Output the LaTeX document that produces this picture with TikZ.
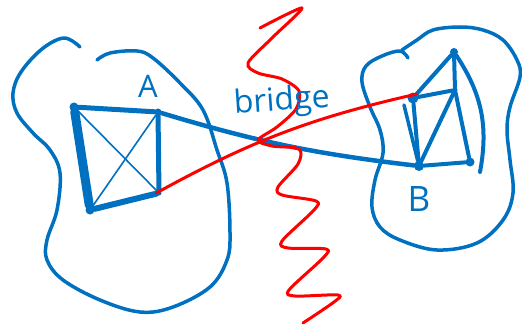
\documentclass[tikz,border=0pt]{standalone}
\usepackage{fontspec}
\setsansfont{Open Sans}
\usetikzlibrary{positioning}
\definecolor{pen}{RGB}{0,112,192}
\definecolor{cut}{RGB}{255,0,0}
\newcommand{\hand}[1]{\sffamily\fontsize{#1}{#1}\selectfont}

\begin{document}
\begin{tikzpicture}[x=1pt, y=-1pt, line cap=round, line join=round,
      every node/.style={text=pen},
      vtx/.style={circle, fill=pen, inner sep=0pt, minimum size=7pt},
      edge/.style={draw=pen, line width=4pt},
      fine/.style={draw=pen, line width=1.6pt},
      blob/.style={draw=pen, line width=3.5pt},
      cutline/.style={draw=cut, line width=3pt}]
  \useasboundingbox (0,0) rectangle (522,326);

  % cluster A
  \draw[blob] plot[smooth, tension=0.6] coordinates {(80,47) (64,38) (42,49)
    (21,72) (13,93) (17,113) (33,133) (50,150) (60,173) (57,210) (47,240)
    (47,260) (63,280) (100,300) (140,312) (173,307) (210,287) (227,260)
    (230,233) (227,183) (217,150) (203,110) (180,83) (153,58) (137,51)
    (110,53) (97,60)};
  \node[vtx, minimum size=9pt] (a1) at (74,107) {};
  \node[vtx] (a2) at (158,112) {};
  \node[vtx, minimum size=5pt] (a3) at (159,193) {};
  \node[vtx, minimum size=9pt] (a4) at (90,210) {};
  \draw[edge, line width=5pt] (a1) -- (a2);
  \draw[edge, line width=5pt] (a2) -- (a3);
  \draw[edge, line width=6pt] (a3) -- (a4);
  \draw[edge, line width=9pt] (a4) -- (a1);
  \draw[fine] (a1) -- (a3);
  \draw[fine] (a2) -- (a4);
  \node[font=\hand{31}] (labA) at (148,86) {A};

  % cluster B
  \draw[blob] plot[smooth, tension=0.6] coordinates {(408,58) (400,51) (382,56)
    (366,66) (362,82) (370,107) (380,130) (383,153) (375,180) (372,207)
    (380,227) (400,240) (437,250) (477,243) (503,220) (513,193) (510,160)
    (507,130) (510,107) (520,77) (517,60) (503,40) (483,30) (460,27)
    (433,30) (417,40) (402,50)};
  \node[vtx, minimum size=8pt] (bT) at (454,52) {};
  \node[vtx, minimum size=5pt] (bM) at (455,90) {};
  \node[vtx, minimum size=11pt] (bL) at (413,98) {};
  \node[vtx, minimum size=10pt] (bBL) at (419,166) {};
  \node[vtx, minimum size=9pt] (bBR) at (470,162) {};
  \draw[edge] (bL) -- (bT);
  \draw[edge] (bT) -- (bM);
  \draw[edge] (bL) -- (bM);
  \draw[edge] (bM) -- (bBL);
  \draw[edge] (bL) -- (bBL);
  \draw[edge, line width=3.5pt] ([shift={(-9,7)}]bL.center) -- (bBL);
  \draw[edge] (bBL) -- (bBR);
  \draw[edge] (bM) -- (bBR);
  \draw[edge] (bT) to[bend left=22] ([shift={(10,10)}]bBR.center);
  \node[font=\hand{35}] (labB) at (419,199) {B};

  % the bridge and the cut
  \draw[edge, line width=4.5pt] (a2) to[bend right=5] (bBL);
  \draw[cutline] (a3.west) to[bend left=8] (bL.north east);
  \draw[cutline] plot[smooth, tension=0.5] coordinates {(260,28) (302,8)
    (272,38) (248,63) (258,73) (282,79) (299,91) (296,109) (277,127)
    (258,140) (272,146) (299,149) (298,164) (278,187) (282,195) (316,201)
    (314,210) (282,241) (288,248) (326,249) (323,258) (289,290) (295,296)
    (338,295) (334,302) (303,323)};
  \node[font=\hand{32}, anchor=base west, rotate=4] (labBridge) at (231,114) {bridge};
\end{tikzpicture}
\end{document}
